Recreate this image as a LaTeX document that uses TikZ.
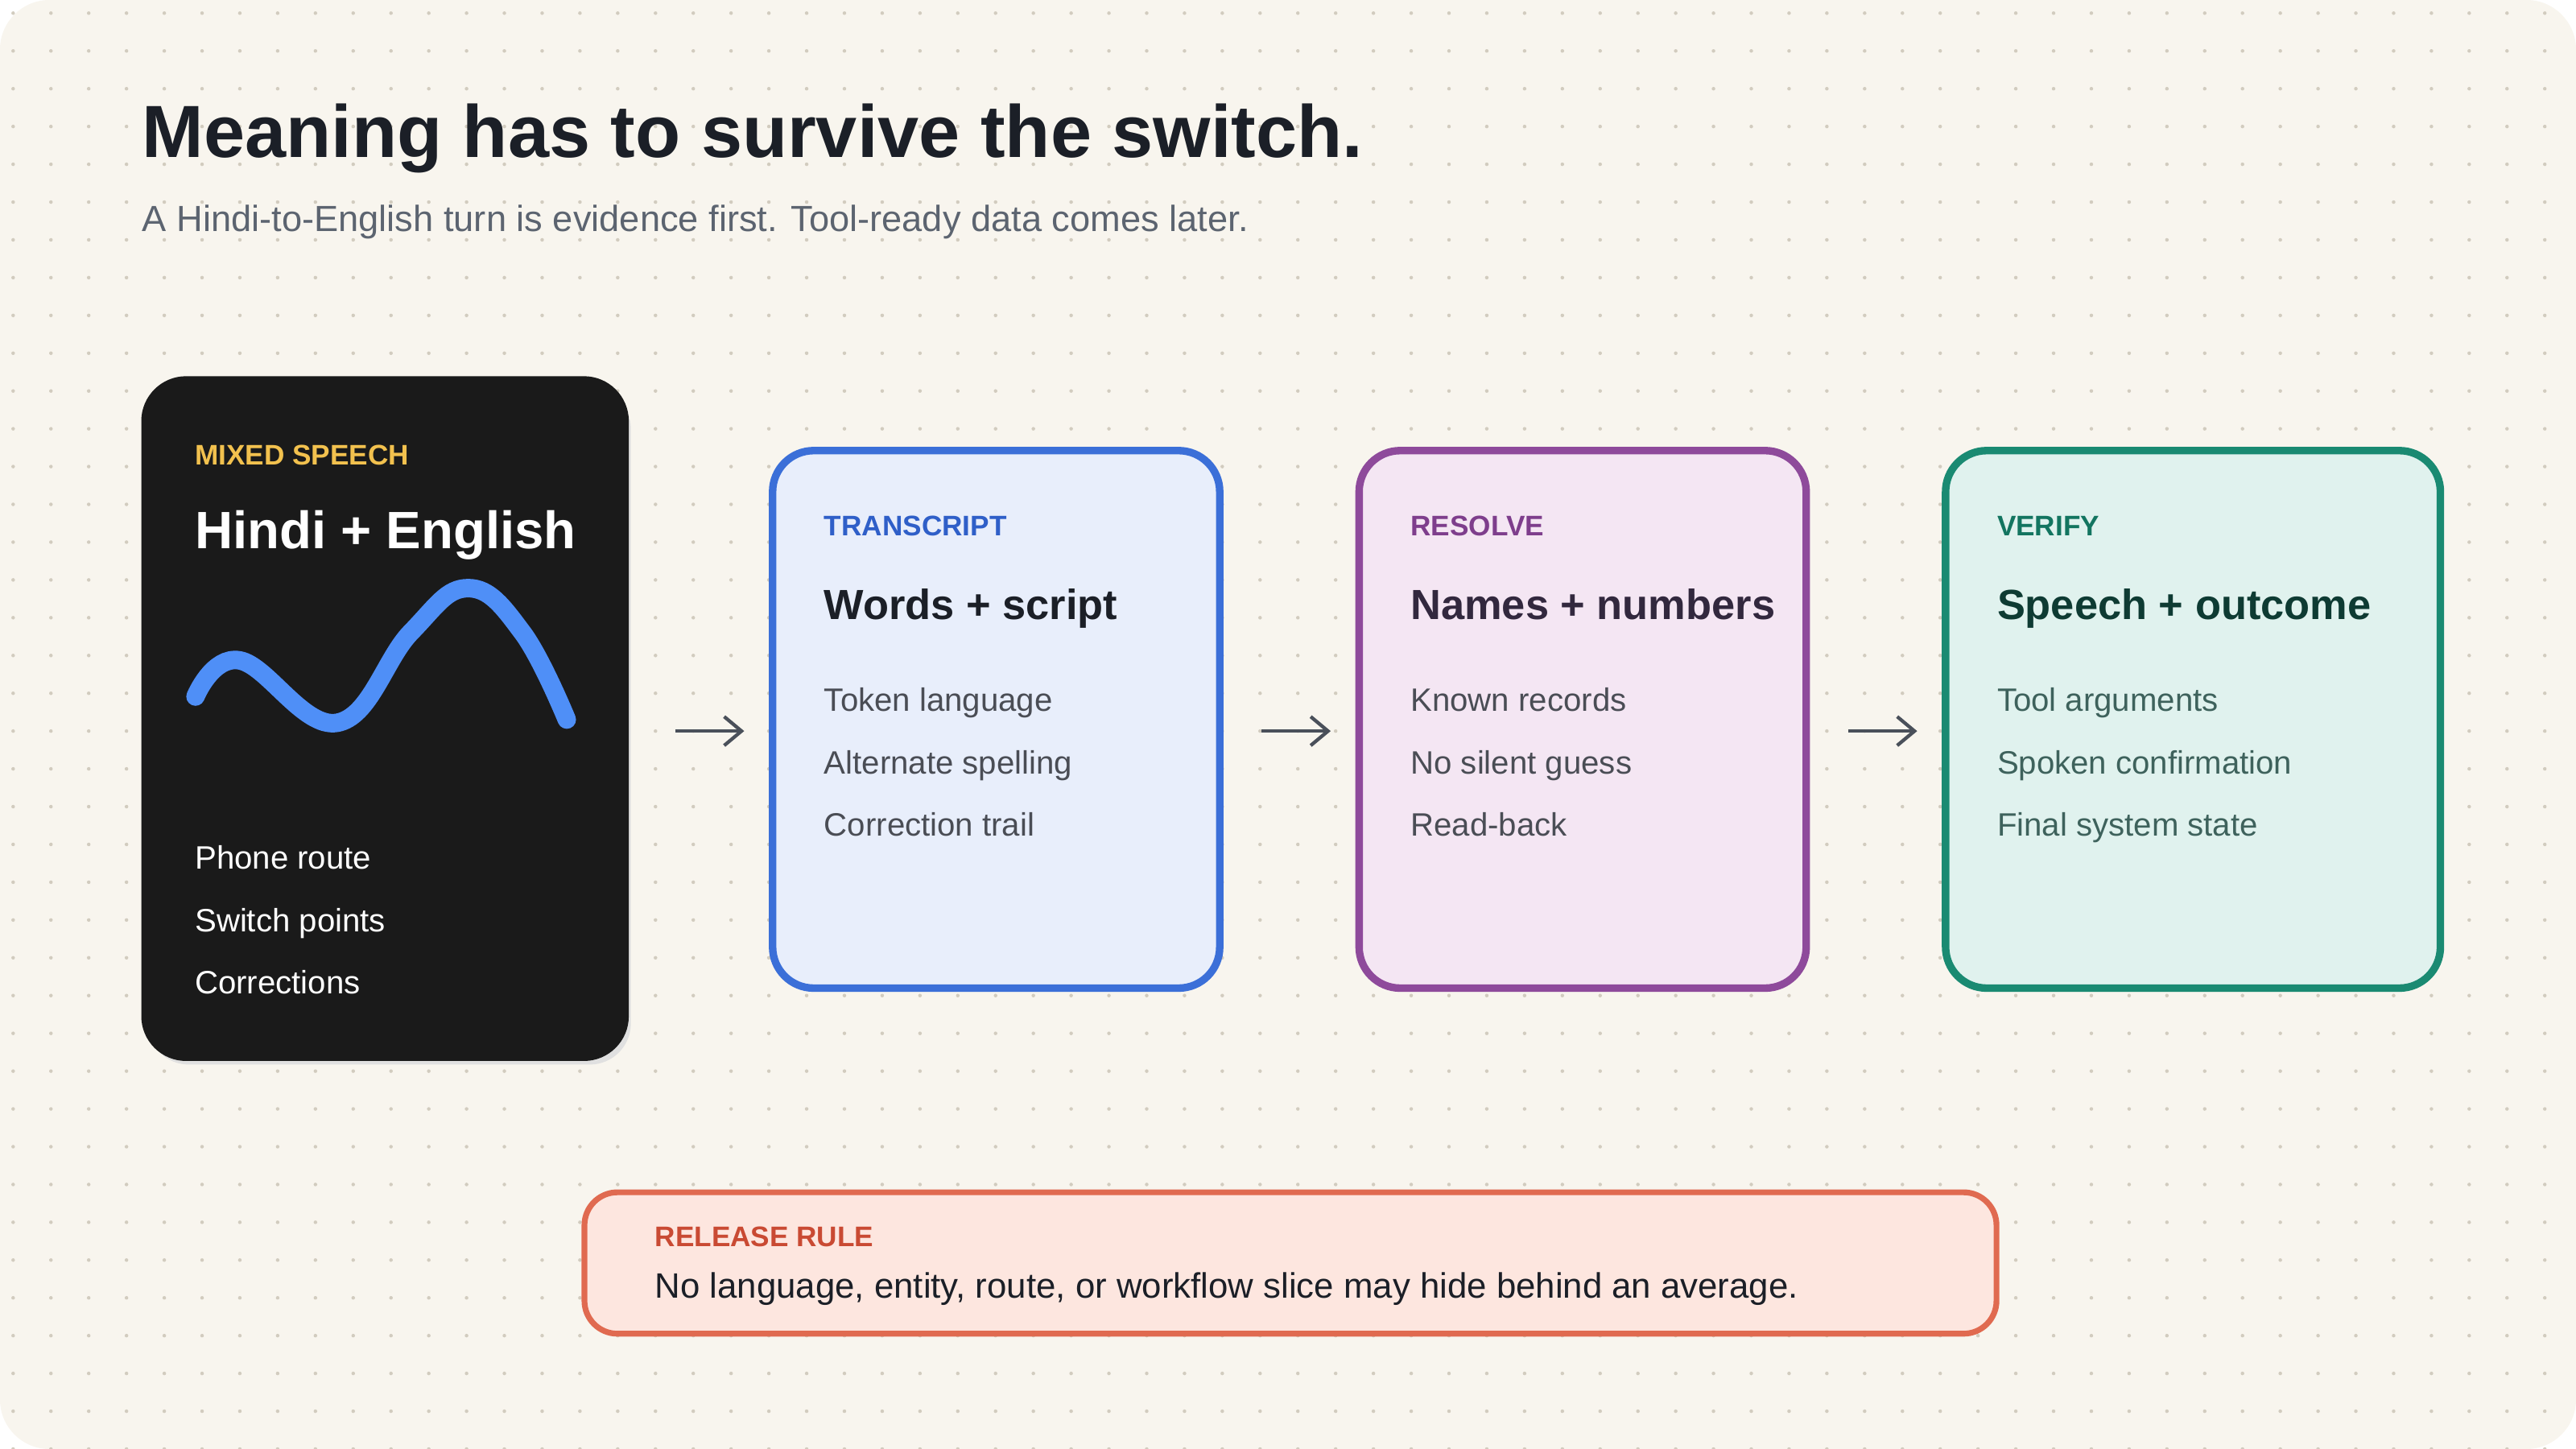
\documentclass[tikz,border=0pt]{standalone}
\usepackage{fontspec}
\setmainfont{Liberation Sans}
\usetikzlibrary{arrows.meta,positioning}

\definecolor{bgpaper}{HTML}{F8F5EE}
\definecolor{dotc}{HTML}{D2CCBF}
\definecolor{inkdark}{HTML}{1B1F27}
\definecolor{inkgray}{HTML}{5C6470}
\definecolor{itemgray}{HTML}{4A4D55}
\definecolor{cardblack}{HTML}{1A1A1A}
\definecolor{mixgold}{HTML}{F2C14E}
\definecolor{waveblue}{HTML}{4F8FF7}
\definecolor{trfill}{HTML}{E8EEFB}
\definecolor{trline}{HTML}{3B6FD8}
\definecolor{trtext}{HTML}{2F5FC8}
\definecolor{rsfill}{HTML}{F4E6F3}
\definecolor{rsline}{HTML}{8E4A9B}
\definecolor{rstext}{HTML}{7E3E8C}
\definecolor{vffill}{HTML}{E0F2EE}
\definecolor{vfline}{HTML}{1A8A72}
\definecolor{vftext}{HTML}{137560}
\definecolor{vftitle}{HTML}{0E3B33}
\definecolor{rlfill}{HTML}{FDE6DF}
\definecolor{rlline}{HTML}{E06A50}
\definecolor{rltext}{HTML}{C94A33}

\tikzset{
  card/.style={draw, line width=1.3pt, rounded corners=0.25cm, minimum width=2.72cm, minimum height=3.27cm, anchor=north west},
  tag/.style={anchor=base west, inner sep=0pt, font=\fontsize{4.9pt}{5pt}\selectfont\bfseries},
  head/.style={anchor=base west, inner sep=0pt, font=\fontsize{7.3pt}{8pt}\selectfont\bfseries},
  item/.style={anchor=base west, inner sep=0pt, text=itemgray, font=\fontsize{5.6pt}{6pt}\selectfont},
  flowarrow/.style={-{Straight Barb[length=3pt,width=5pt]}, draw=inkgray!80!black, line width=0.6pt}
}

\begin{document}
\begin{tikzpicture}[x=0.01cm,y=-0.01cm]
  \useasboundingbox (0,0) rectangle (1568,882);
  \fill[bgpaper, rounded corners=0.3cm] (0,0) rectangle (1568,882);
  % dotted grid
  \foreach \i in {0,...,68} {
    \foreach \j in {0,...,38} {
      \fill[dotc] (\i*23+8,\j*23+8) circle (1.1);
    }
  }

  % heading
  \node[anchor=base west, inner sep=0pt, text=inkdark, font=\fontsize{12.8pt}{14pt}\selectfont\bfseries] (title) at (86,96) {Meaning has to survive the switch.};
  \node[anchor=base west, inner sep=0pt, text=inkgray, font=\fontsize{6.3pt}{7pt}\selectfont] (subtitle) at (86,141) {A Hindi-to-English turn is evidence first. Tool-ready data comes later.};

  % mixed speech card
  \fill[black!12, rounded corners=0.25cm] (90,236) rectangle (384,648);
  \node[card, fill=cardblack, draw=cardblack, minimum width=2.92cm, minimum height=4.12cm] (mix) at (86,229) {};
  \node[tag, text=mixgold] (mixtag) at (118,283) {MIXED SPEECH};
  \node[head, text=white, font=\fontsize{9.1pt}{10pt}\selectfont\bfseries] (mixhead) at (118,334) {Hindi + English};
  \draw[waveblue, line width=3.2pt, line cap=round] plot[smooth, tension=0.7] coordinates {(119,424) (146,402) (205,440) (250,385) (285,358) (318,385) (345,438)};
  \node[item, text=white] (mix1) at (118,529) {Phone route};
  \node[item, text=white] (mix2) at (118,567) {Switch points};
  \node[item, text=white] (mix3) at (118,605) {Corrections};

  % transcript card
  \node[card, fill=trfill, draw=trline] (trans) at (468,272) {};
  \node[tag, text=trtext] (transtag) at (501,326) {TRANSCRIPT};
  \node[head, text=inkdark] (transhead) at (501,377) {Words + script};
  \node[item] (trans1) at (501,433) {Token language};
  \node[item] (trans2) at (501,471) {Alternate spelling};
  \node[item] (trans3) at (501,509) {Correction trail};

  % resolve card
  \node[card, fill=rsfill, draw=rsline] (res) at (825,272) {};
  \node[tag, text=rstext] (restag) at (858,326) {RESOLVE};
  \node[head, text=inkdark!80!rsline] (reshead) at (858,377) {Names + numbers};
  \node[item] (res1) at (858,433) {Known records};
  \node[item] (res2) at (858,471) {No silent guess};
  \node[item] (res3) at (858,509) {Read-back};

  % verify card
  \node[card, fill=vffill, draw=vfline, minimum width=3.01cm] (ver) at (1182,272) {};
  \node[tag, text=vftext] (vertag) at (1215,326) {VERIFY};
  \node[head, text=vftitle] (verhead) at (1215,377) {Speech + outcome};
  \node[item, text=vftitle!80] (ver1) at (1215,433) {Tool arguments};
  \node[item, text=vftitle!80] (ver2) at (1215,471) {Spoken confirmation};
  \node[item, text=vftitle!80] (ver3) at (1215,509) {Final system state};

  % flow arrows
  \coordinate (a1) at (411,445); \coordinate (b1) at (453,445);
  \coordinate (a2) at (768,445); \coordinate (b2) at (810,445);
  \coordinate (a3) at (1125,445); \coordinate (b3) at (1167,445);
  \draw[flowarrow] (a1) -- (b1);
  \draw[flowarrow] (a2) -- (b2);
  \draw[flowarrow] (a3) -- (b3);

  % release rule
  \node[card, fill=rlfill, draw=rlline, line width=1pt, minimum width=8.59cm, minimum height=0.86cm, rounded corners=0.2cm] (rule) at (354,724) {};
  \node[tag, text=rltext] (ruletag) at (398,759) {RELEASE RULE};
  \node[item, text=inkdark, font=\fontsize{6.1pt}{7pt}\selectfont] (ruletext) at (398,790) {No language, entity, route, or workflow slice may hide behind an average.};
\end{tikzpicture}
\end{document}
